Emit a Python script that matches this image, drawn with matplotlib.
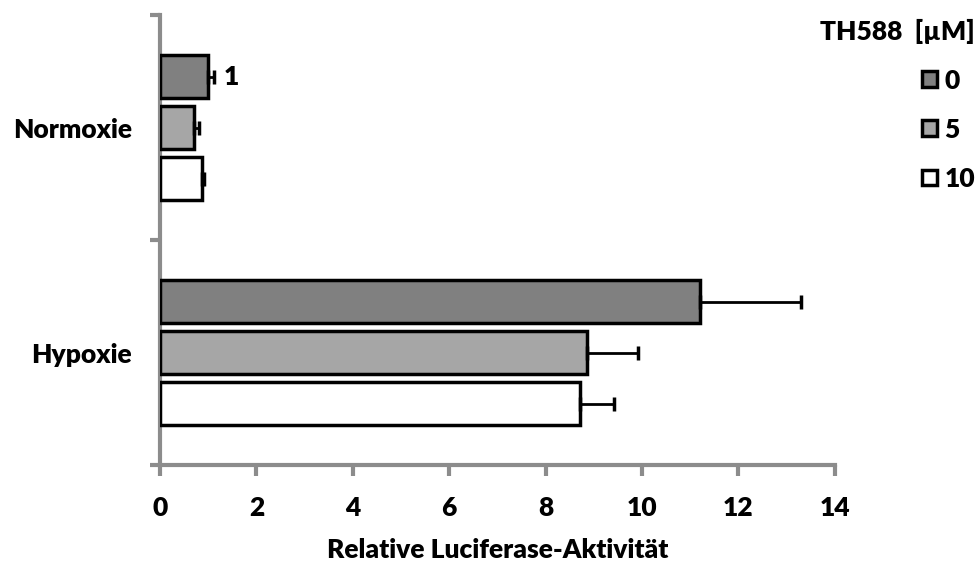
import matplotlib
matplotlib.use("Agg")
import matplotlib.pyplot as plt
import numpy as np

plt.rcParams['font.family'] = ['Lato', 'DejaVu Sans']
plt.rcParams['font.weight'] = 'heavy'

# Relative Luciferase-Aktivität je Bedingung und TH588-Konzentration
bedingungen = ['Hypoxie', 'Normoxie']
konzentrationen = ['0', '5', '10']
mittelwerte = {
    '0':  [11.2, 1.0],
    '5':  [8.86, 0.70],
    '10': [8.72, 0.88],
}
fehler = {
    '0':  [2.1, 0.12],
    '5':  [1.05, 0.10],
    '10': [0.70, 0.03],
}
farben = {'0': '#808080', '5': '#a6a6a6', '10': '#ffffff'}
beschriftung_wert = 1.0   # Referenzwert Normoxie, 0 µM

grau = '#8c8c8c'
fs = 19
fw = 'heavy'

fig = plt.figure(figsize=(9.78, 5.63), dpi=100)
ax = fig.add_axes([0.1636, 0.174, 0.690, 0.799])

y = np.arange(len(bedingungen))
versatz = {'0': 0.227, '5': 0.0, '10': -0.227}
hoehe = 0.19

for k in konzentrationen:
    werte = mittelwerte[k]
    err = np.array([[0] * len(werte), fehler[k]])
    ax.barh(y + versatz[k], werte, height=hoehe, color=farben[k],
            edgecolor='black', linewidth=2.5, label=k, zorder=3)
    ax.errorbar(werte, y + versatz[k], xerr=err, fmt='none', ecolor='black',
                elinewidth=2, capsize=5, capthick=2.5, zorder=4)

# Wertangabe neben dem Normoxie-Kontrollbalken
ax.text(beschriftung_wert + 0.33, 1 + versatz['0'], f'{beschriftung_wert:g}',
        ha='left', va='center', fontsize=fs, fontweight=fw)

ax.set_xlim(0, 14)
ax.set_ylim(-0.5, 1.5)
ax.set_xticks(np.arange(0, 15, 2))
ax.set_yticks([-0.5, 0.5, 1.5])
ax.set_yticklabels([])
ax.set_yticks(y, minor=True)
ax.set_yticklabels(bedingungen, minor=True)
ax.tick_params(axis='y', which='minor', length=0, pad=20, labelsize=fs)
ax.tick_params(axis='y', which='major', length=7, width=3, color=grau, direction='out')
ax.tick_params(axis='x', length=8, width=3, color=grau, direction='out',
               labelsize=fs, pad=14)
for lbl in ax.get_xticklabels() + ax.get_yticklabels(minor=True):
    lbl.set_fontweight(fw)

for s in ['top', 'right']:
    ax.spines[s].set_visible(False)
for s in ['left', 'bottom']:
    ax.spines[s].set_color(grau)
    ax.spines[s].set_linewidth(3)

ax.set_xlabel('Relative Luciferase-Aktivität', fontsize=fs, fontweight=fw, labelpad=13)

leg = ax.legend(title='TH588  [µM]', loc='upper left', bbox_to_anchor=(0.963, 1.016),
                frameon=False, fontsize=fs, title_fontproperties={'weight': fw, 'size': fs},
                handlelength=0.55, handleheight=0.55, handletextpad=0.3,
                labelspacing=0.95, alignment='right', borderaxespad=0)
for t in leg.get_texts():
    t.set_fontweight(fw)

fig.savefig('out.png', dpi=100)
